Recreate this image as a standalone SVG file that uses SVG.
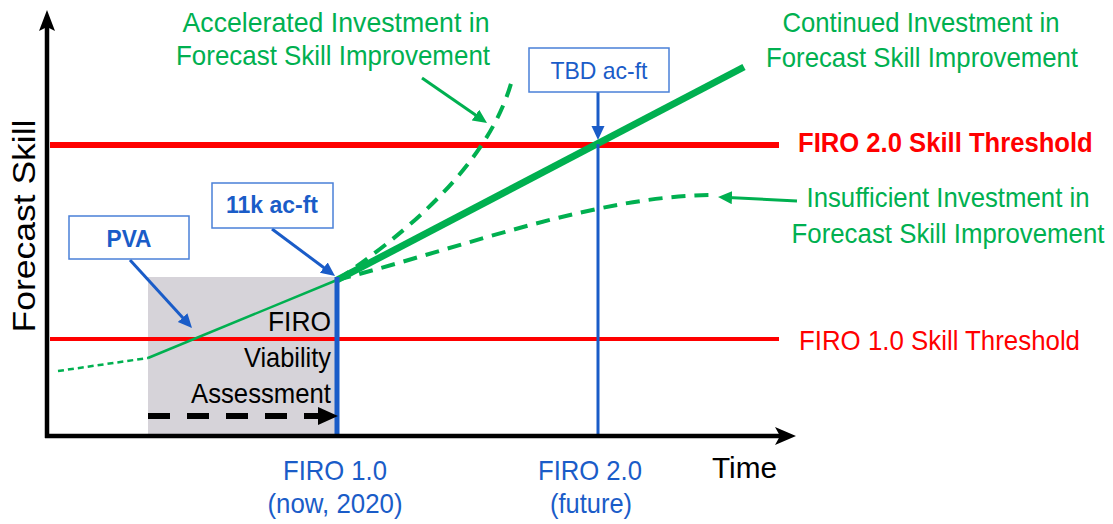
<svg xmlns="http://www.w3.org/2000/svg" width="1113" height="524" viewBox="0 0 1113 524">
<defs>
<style>
text{font-family:"Liberation Sans",Arial,sans-serif;}
.g{fill:#00b050;font-size:28px;}
.r{fill:#ff0000;font-size:28px;}
.b{fill:#1a5cc8;}
.k{fill:#000;}
.box{fill:#fff;stroke:#4a80d8;stroke-width:1.5;}
.barrow{stroke:#1a5cc8;stroke-width:3;fill:none;marker-end:url(#mb);}
.garrow{stroke:#00b050;stroke-width:3;fill:none;marker-end:url(#mg);}
.gdash{stroke:#00b050;stroke-width:4;fill:none;stroke-dasharray:14 9;}
</style>
<marker id="mb" markerUnits="userSpaceOnUse" markerWidth="16" markerHeight="14" refX="4" refY="6.5" orient="auto"><path d="M0,0 L14,6.5 L0,13 z" fill="#1a5cc8"/></marker>
<marker id="mg" markerUnits="userSpaceOnUse" markerWidth="16" markerHeight="14" refX="4" refY="6.5" orient="auto"><path d="M0,0 L14,6.5 L0,13 z" fill="#00b050"/></marker>
</defs>
<rect width="1113" height="524" fill="#fff"/>

<g id="viability-region">
<rect x="148" y="277" width="189" height="159" fill="#d6d3d9"/>
<text class="k" x="331" y="331" text-anchor="end" style="font-size:28px" textLength="63" lengthAdjust="spacingAndGlyphs">FIRO</text>
<text class="k" x="331" y="367" text-anchor="end" style="font-size:28px" textLength="87" lengthAdjust="spacingAndGlyphs">Viability</text>
<text class="k" x="331" y="403" text-anchor="end" style="font-size:28px" textLength="140" lengthAdjust="spacingAndGlyphs">Assessment</text>
</g>

<g id="thresholds">
<line x1="50" y1="145" x2="779" y2="145" stroke="#ff0000" stroke-width="6"/>
<line x1="50" y1="339" x2="779" y2="339" stroke="#ff0000" stroke-width="4"/>
<text class="r" transform="translate(798,152) scale(0.916,1)" x="0" y="0" font-weight="bold">FIRO 2.0 Skill Threshold</text>
<text class="r" x="799" y="350" textLength="281" lengthAdjust="spacingAndGlyphs">FIRO 1.0 Skill Threshold</text>
</g>

<g id="connectors">
<path d="M58,371 L148,358" stroke="#00b050" stroke-width="2.5" fill="none" stroke-dasharray="6 4"/>
<path d="M148,358 L337,280" stroke="#00b050" stroke-width="2.5" fill="none"/>
<path class="gdash" d="M337,280 Q485,180 512,80"/>
<path class="gdash" d="M337,280 C470,245 600,195 715,195"/>
<path d="M337,280 L744,67" stroke="#00b050" stroke-width="7" fill="none"/>
<line x1="337" y1="277" x2="337" y2="436" stroke="#1a5cc8" stroke-width="5"/>
<line x1="598" y1="144" x2="598" y2="436" stroke="#1a5cc8" stroke-width="3"/>
<path class="barrow" d="M130,260 L185.3,320.6"/>
<path class="barrow" d="M272,229 L327,270"/>
<path class="barrow" d="M598,92 L598,130"/>
<path class="garrow" d="M422,78 L478.8,117.3"/>
<path class="garrow" d="M797,201 L728,197.5"/>
<path d="M148,416 L320,416" stroke="#000" stroke-width="6" stroke-dasharray="22 17" fill="none"/>
<path d="M318,407 L338,416 L318,425 z" fill="#000"/>
</g>

<g id="axes">
<line x1="47" y1="438" x2="47" y2="26" stroke="#000" stroke-width="4.5"/>
<path d="M47,10 L55,31 L47,27 L39,31 z" fill="#000"/>
<line x1="45" y1="436" x2="783" y2="436" stroke="#000" stroke-width="4.5"/>
<path d="M796,436 L775,427 L780,436 L775,445 z" fill="#000"/>
<text class="k" transform="translate(35,226) rotate(-90)" text-anchor="middle" style="font-size:32px" textLength="213" lengthAdjust="spacingAndGlyphs">Forecast Skill</text>
<text class="k" x="712" y="478" style="font-size:30px" textLength="65" lengthAdjust="spacingAndGlyphs">Time</text>
</g>

<g id="label-accelerated">
<text class="g" x="336" y="32" text-anchor="middle" textLength="307" lengthAdjust="spacingAndGlyphs">Accelerated Investment in</text>
<text class="g" x="333" y="65" text-anchor="middle" textLength="314" lengthAdjust="spacingAndGlyphs">Forecast Skill Improvement</text>
</g>

<g id="label-continued">
<text class="g" x="921" y="32" text-anchor="middle" textLength="277" lengthAdjust="spacingAndGlyphs">Continued Investment in</text>
<text class="g" x="922" y="67" text-anchor="middle" textLength="312" lengthAdjust="spacingAndGlyphs">Forecast Skill Improvement</text>
</g>

<g id="label-insufficient">
<text class="g" x="948" y="207" text-anchor="middle" textLength="283" lengthAdjust="spacingAndGlyphs">Insufficient Investment in</text>
<text class="g" transform="translate(948,243) scale(0.923,1)" x="0" y="0" text-anchor="middle">Forecast Skill Improvement</text>
</g>

<g id="box-pva">
<rect class="box" x="69" y="216" width="120" height="43"/>
<text class="b" x="129" y="247" text-anchor="middle" style="font-size:24px;font-weight:bold" textLength="45" lengthAdjust="spacingAndGlyphs">PVA</text>
</g>

<g id="box-11k">
<rect class="box" x="212" y="183" width="121" height="45"/>
<text class="b" x="272" y="213" text-anchor="middle" style="font-size:24px;font-weight:bold" textLength="92" lengthAdjust="spacingAndGlyphs">11k ac-ft</text>
</g>

<g id="box-tbd">
<rect class="box" x="529" y="48" width="140" height="44"/>
<text class="b" x="599" y="79" text-anchor="middle" style="font-size:24px" textLength="97" lengthAdjust="spacingAndGlyphs">TBD ac-ft</text>
</g>

<g id="label-firo1">
<text class="b" x="335" y="480" text-anchor="middle" style="font-size:28px" textLength="104" lengthAdjust="spacingAndGlyphs">FIRO 1.0</text>
<text class="b" x="335" y="513" text-anchor="middle" style="font-size:28px" textLength="135" lengthAdjust="spacingAndGlyphs">(now, 2020)</text>
</g>

<g id="label-firo2">
<text class="b" x="590" y="480" text-anchor="middle" style="font-size:28px" textLength="104" lengthAdjust="spacingAndGlyphs">FIRO 2.0</text>
<text class="b" x="591" y="513" text-anchor="middle" style="font-size:28px" textLength="82" lengthAdjust="spacingAndGlyphs">(future)</text>
</g>
</svg>
